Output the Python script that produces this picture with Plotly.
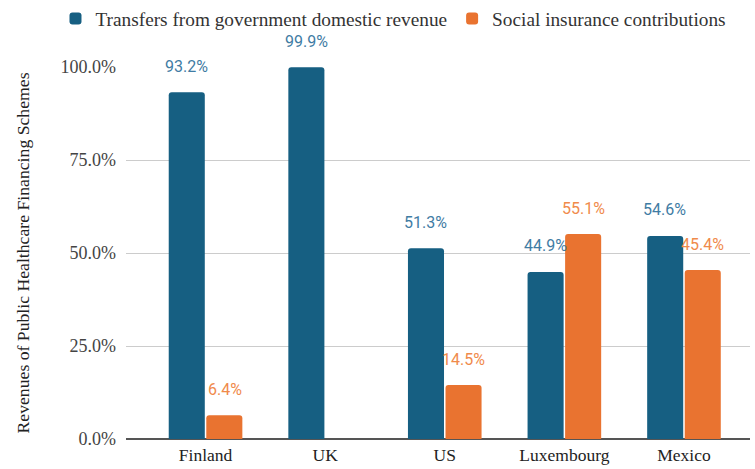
import plotly.graph_objects as go

countries = ["Finland", "UK", "US", "Luxembourg", "Mexico"]
transfers = [93.2, 99.9, 51.3, 44.9, 54.6]
social = [6.4, None, 14.5, 55.1, 45.4]
series_names = ["Transfers from government domestic revenue", "Social insurance contributions"]
colors = ["#165f82", "#e97330"]
label_colors = ["#3f7ca4", "#f08a4b"]
SERIF = "Liberation Serif, Times New Roman, DejaVu Serif, serif"

fig = go.Figure()
for name, vals, col in zip(series_names, [transfers, social], colors):
    fig.add_trace(go.Bar(x=countries, y=vals, name=name,
                         marker=dict(color=col, line=dict(width=0), cornerradius=3),
                         hoverinfo="skip"))

annotations = []
for vals, lc, shift in [(transfers, label_colors[0], -19), (social, label_colors[1], 19)]:
    for c, v in zip(countries, vals):
        if v is None:
            continue
        annotations.append(dict(x=c, y=v, text=f"{v:.1f}%", showarrow=False, xshift=shift, yshift=26,
                                font=dict(family="Roboto", size=16, color=lc), xref="x", yref="y"))

fig.update_layout(
    width=755, height=469,
    margin=dict(l=126, r=5, t=67, b=30, autoexpand=False),
    paper_bgcolor="white", plot_bgcolor="white",
    barmode="group", bargap=0.372, bargroupgap=0.04,
    font=dict(family=SERIF, size=17, color="#333333"),
    legend=dict(orientation="h", x=-0.113, xanchor="left", y=1.129, yanchor="middle",
                font=dict(family=SERIF, size=19.3, color="#333333"),
                itemwidth=30, traceorder="normal"),
    annotations=annotations,
    showlegend=True,
)
fig.update_xaxes(range=[-0.665, 4.552], showline=True, linecolor="#555555", linewidth=1,
                 ticks="", tickfont=dict(family=SERIF, size=17.5, color="#222222"))
fig.update_yaxes(range=[0, 100], tickvals=[0, 25, 50, 75, 100], ticktext=["0.0%", "25.0%", "50.0%", "75.0%", "100.0%"],
                 showgrid=True, gridcolor="#cccccc", zeroline=True, zerolinecolor="#555555",
                 tickfont=dict(family=SERIF, size=18, color="#444444"), ticks="", ticklen=0,
                 ticklabelstandoff=9,
                 title=dict(text="Revenues of Public Healthcare Financing Schemes", standoff=26,
                            font=dict(family=SERIF, size=17.7, color="#222222")))

fig.write_html("out.html")
